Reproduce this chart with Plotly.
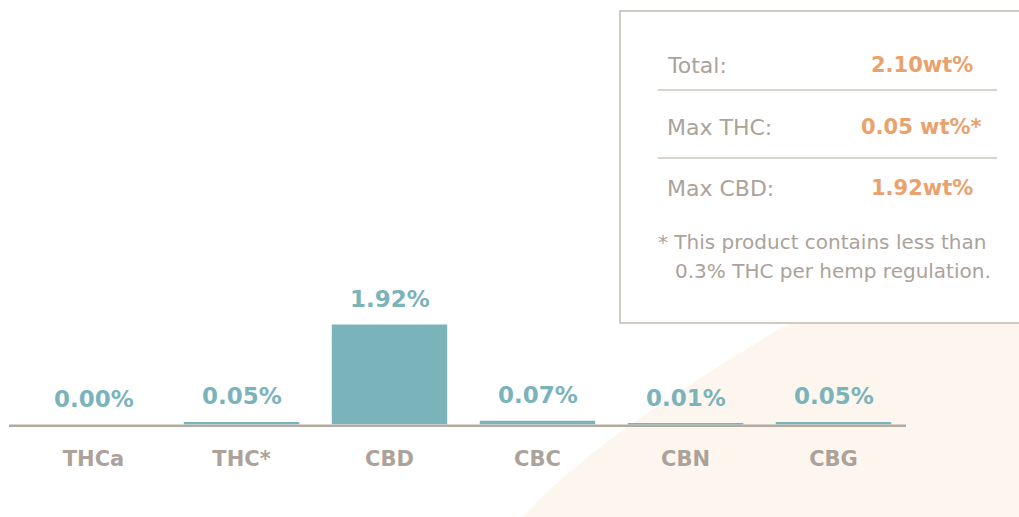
import plotly.graph_objects as go

W, H = 1019, 517

categories = ["THCa", "THC*", "CBD", "CBC", "CBN", "CBG"]
values = [0.00, 0.05, 1.92, 0.07, 0.01, 0.05]
value_labels = ["0.00%", "0.05%", "1.92%", "0.07%", "0.01%", "0.05%"]

summary_labels = ["Total:", "Max THC:", "Max CBD:"]
summary_values = ["2.10wt%", "0.05 wt%*", "1.92wt%"]
footnote = ["* This product contains less than", "0.3% THC per hemp regulation."]

TEAL = "#7bb3bb"
GRAY = "#aca29a"
ORANGE = "#e9a26d"
LINE = "#b3aaa2"
PEACH = "#fdf6ef"
FONT = "DejaVu Sans"


def px(x, y):
    return x / W, (H - y) / H


def pt(x, y):
    a, b = px(x, y)
    return f"{a:.5f},{b:.5f}"


fig = go.Figure()
fig.add_trace(go.Bar(
    x=categories, y=values,
    marker=dict(color=TEAL, line=dict(width=0)),
    width=0.78,
    hoverinfo="skip",
))

baseline_y = 424.5
y0_frac = (H - baseline_y) / H
ymax = 1.92 * baseline_y / 100.0  # 100px for 1.92

annotations = []
for c, v, lab in zip(categories, values, value_labels):
    annotations.append(dict(
        x=c, y=v, xref="x", yref="y", text=lab, showarrow=False,
        yanchor="bottom", yshift=11,
        font=dict(family=FONT, size=23, color=TEAL, weight="bold"),
    ))

# summary box text
rows_y = [65, 127, 188]
rights = [975, 984, 975]
for lab, val, yy, rx in zip(summary_labels, summary_values, rows_y, rights):
    x0, y0 = px(665, yy)
    annotations.append(dict(x=x0, y=y0, xref="paper", yref="paper", text=lab,
                            showarrow=False, xanchor="left", yanchor="middle",
                            font=dict(family=FONT, size=22, color=GRAY)))
    x1, _ = px(rx, yy)
    annotations.append(dict(x=x1, y=y0, xref="paper", yref="paper", text=val,
                            showarrow=False, xanchor="right", yanchor="middle",
                            font=dict(family=FONT, size=21, color=ORANGE, weight="bold")))

for txt, xx, yy in zip(footnote, [656, 673], [242, 271]):
    a, b = px(xx, yy)
    annotations.append(dict(x=a, y=b, xref="paper", yref="paper", text=txt,
                            showarrow=False, xanchor="left", yanchor="middle",
                            font=dict(family=FONT, size=20, color=GRAY)))

peach_path = (f"M {pt(523, 517)} Q {pt(590, 440)} {pt(790, 323)} "
              f"L {pt(1019, 189)} L {pt(1019, 517)} Z")

bx0, by0 = px(620, 11)
bx1, by1 = px(1030, 323)
shapes = [
    dict(type="path", path=peach_path, xref="paper", yref="paper",
         fillcolor=PEACH, line=dict(width=0), layer="below"),
    dict(type="rect", x0=bx0, y0=by1, x1=bx1, y1=by0, xref="paper", yref="paper",
         fillcolor="white", line=dict(color="#c3bab2", width=1.5), layer="below"),
]
for sy in [90, 158]:
    a0, b0 = px(658, sy)
    a1, _ = px(997, sy)
    shapes.append(dict(type="line", x0=a0, x1=a1, y0=b0, y1=b0, xref="paper", yref="paper",
                       line=dict(color="#cdc5bd", width=1.5)))
# baseline (drawn beneath the bars so they sit on it)
l0, lb = px(9, baseline_y + 1.25)
l1, _ = px(906, baseline_y + 1.25)
shapes.append(dict(type="line", x0=l0, x1=l1, y0=lb, y1=lb, xref="paper", yref="paper",
                   line=dict(color=LINE, width=2.5), layer="below"))

fig.update_layout(
    width=W, height=H,
    margin=dict(l=0, r=0, t=0, b=0),
    paper_bgcolor="white",
    plot_bgcolor="rgba(0,0,0,0)",
    showlegend=False,
    bargap=0.22,
    xaxis=dict(
        domain=[19.5 / W, 907.5 / W],
        range=[-0.5, 5.5],
        showgrid=False, zeroline=False, showline=False, ticks="",
        tickfont=dict(family=FONT, size=21, color=GRAY, weight="bold"),
        ticklabelstandoff=19,
        fixedrange=True,
    ),
    yaxis=dict(
        domain=[y0_frac, 1.0],
        range=[0, ymax],
        visible=False,
        fixedrange=True,
    ),
    annotations=annotations,
    shapes=shapes,
)

fig.write_html(
    "out.html",
    config={"displayModeBar": False},
    post_script="document.body.style.margin='0';document.body.style.padding='0';",
)
